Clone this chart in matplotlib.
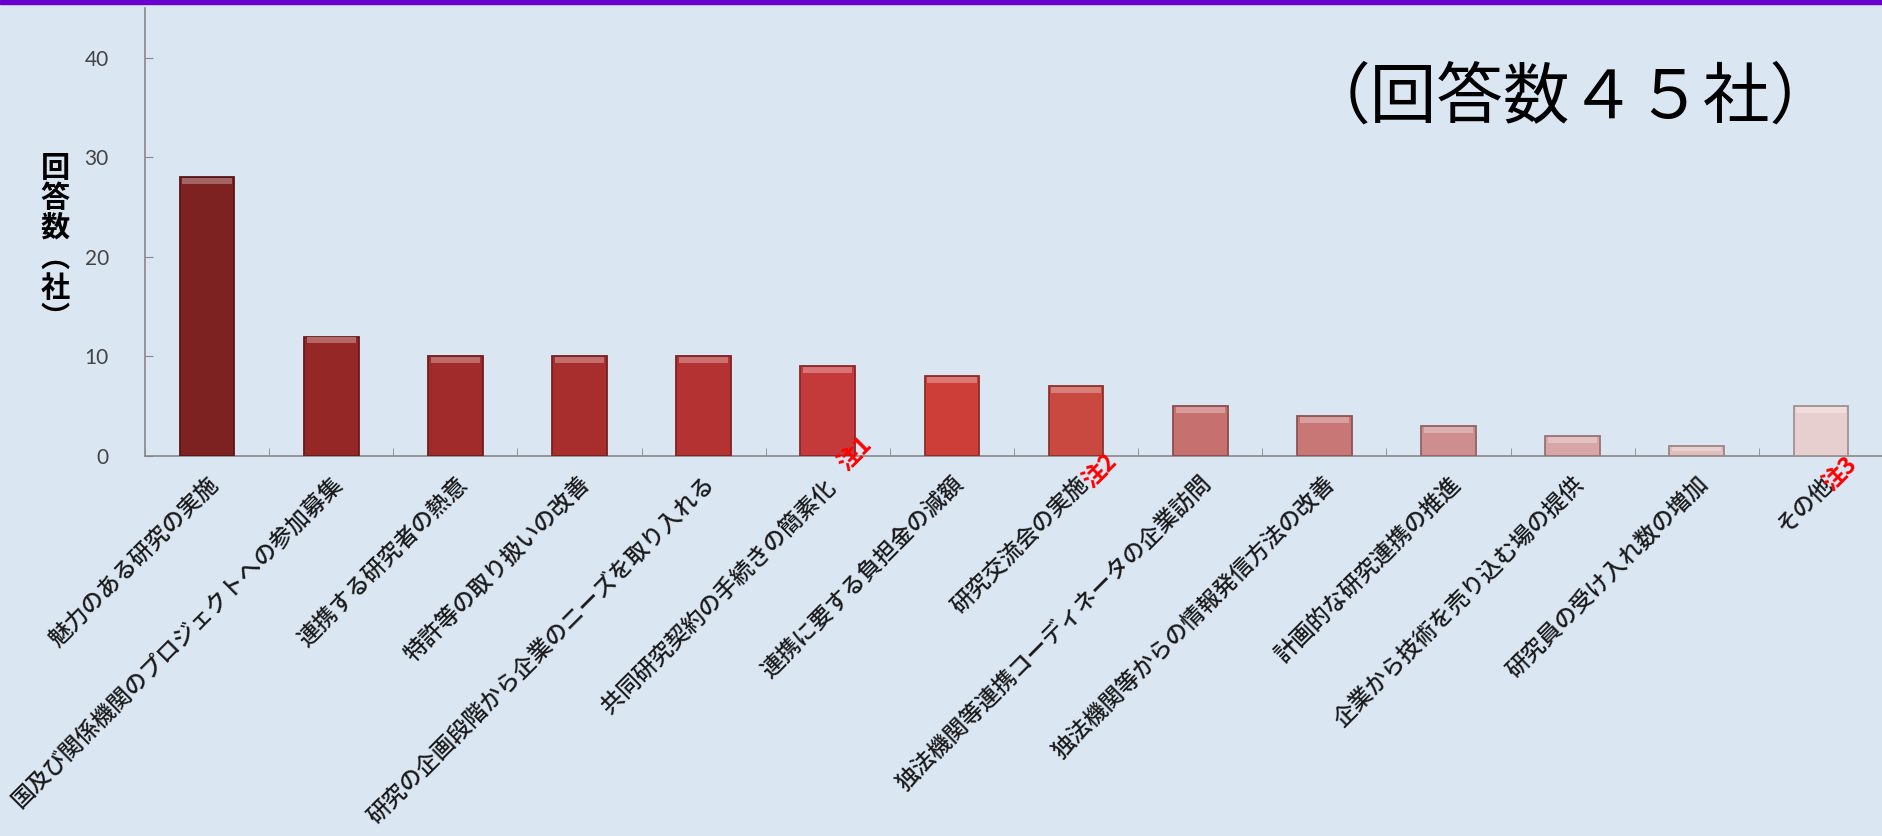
import numpy as np
import matplotlib.pyplot as plt
import matplotlib.colors as mcolors
import matplotlib.transforms as mtransforms
from matplotlib.patches import Rectangle

plt.rcParams['font.family'] = ['Noto Sans CJK JP', 'DejaVu Sans']

# data
categories = [
    "魅力のある研究の実施",
    "国及び関係機関のプロジェクトへの参加募集",
    "連携する研究者の熱意",
    "特許等の取り扱いの改善",
    "研究の企画段階から企業のニーズを取り入れる",
    "共同研究契約の手続きの簡素化 ",
    "連携に要する負担金の減額",
    "研究交流会の実施",
    "独法機関等連携コーディネータの企業訪問",
    "独法機関等からの情報発信方法の改善",
    "計画的な研究連携の推進",
    "企業から技術を売り込む場の提供",
    "研究員の受け入れ数の増加",
    "その他",
]
counts = [28, 12, 10, 10, 10, 9, 8, 7, 5, 4, 3, 2, 1, 5]
notes = {5: "注1", 7: "注2", 13: "注3"}
y_ticks = [0, 10, 20, 30, 40]

BAR_COLORS = [
    "#7e2121", "#952727", "#a12a2a", "#a82d2d", "#b43232", "#c4393a",
    "#cc3e37", "#c9483f", "#c77070", "#c97676", "#cf8e8e", "#d8a6a6",
    "#e0bebe", "#e8cfcf",
]
# note offsets in points (x, y) from the label anchor
NOTE_OFFSETS = {5: (4, -2), 7: (1, -14), 13: (-2, -16)}
BG = "#dae6f2"

fig = plt.figure(figsize=(18.83, 8.36), dpi=100)
fig.patch.set_facecolor(BG)
ax = fig.add_axes([145 / 1883, 1 - 456 / 836, 1 - 145 / 1883, (456 - 8) / 836])
ax.set_facecolor(BG)

x = np.arange(len(categories))
width = 0.44

for i, v in enumerate(counts):
    c = np.array(mcolors.to_rgb(BAR_COLORS[i]))
    dark = tuple(c * 0.7)
    light = tuple(1 - (1 - c) * 0.7)
    ax.bar(x[i], v, width, color=tuple(c), edgecolor=dark, linewidth=1.3,
           zorder=3)
    # bevel highlight at the top of each bar
    h = min(0.6, v * 0.4)
    ax.bar(x[i], h, width * 0.9, bottom=v - h - 0.08, color=light,
           linewidth=0, zorder=4)

ax.set_xlim(-0.5, len(categories) - 0.5)
ax.set_ylim(0, 45)
ax.set_yticks(y_ticks)
ax.set_yticklabels([str(t) for t in y_ticks], fontsize=15, color="#444444",
                   family=["Lato", "DejaVu Sans"])
ax.tick_params(axis="y", direction="in", length=6, color="#888888", pad=26)

ax.set_xticks(x)
ax.set_xticklabels(categories, rotation=45, ha="right", rotation_mode="anchor",
                   fontsize=16.5, color="#1a1a1a", fontweight="medium")
ax.tick_params(axis="x", length=0, pad=12)
ax.set_xticks(np.arange(len(categories) + 1) - 0.5, minor=True)
ax.tick_params(axis="x", which="minor", direction="in", length=6,
               color="#888888")

for side in ["top", "right"]:
    ax.spines[side].set_visible(False)
for side in ["left", "bottom"]:
    ax.spines[side].set_color("#888888")
    ax.spines[side].set_linewidth(1.2)

# red notes following the tick labels
for i, n in notes.items():
    dx, dy = NOTE_OFFSETS[i]
    off = mtransforms.ScaledTranslation(dx / 72, dy / 72, fig.dpi_scale_trans)
    tr = mtransforms.blended_transform_factory(ax.transData, ax.transAxes) + off
    ax.text(x[i], 0, n, transform=tr, rotation=45, ha="left", va="top",
            rotation_mode="anchor", fontsize=17, color="#ff0000",
            fontweight="bold")

# y label (vertical text)
fig.text(55 / 1883, 1 - 243 / 836, "回\n答\n数\n︵\n社\n︶", ha="center",
         va="center", fontsize=21, fontweight="bold", linespacing=1.0)

# response count
fig.text(1570 / 1883, 1 - 99 / 836, "（回答数４５社）", ha="center", va="center",
         fontsize=48)

# purple band on top
fig.patches.append(Rectangle((0, 1 - 4 / 836), 1, 4 / 836,
                             transform=fig.transFigure, color="#6a00d0",
                             zorder=10))

plt.savefig("out.png", dpi=100, facecolor=BG)
